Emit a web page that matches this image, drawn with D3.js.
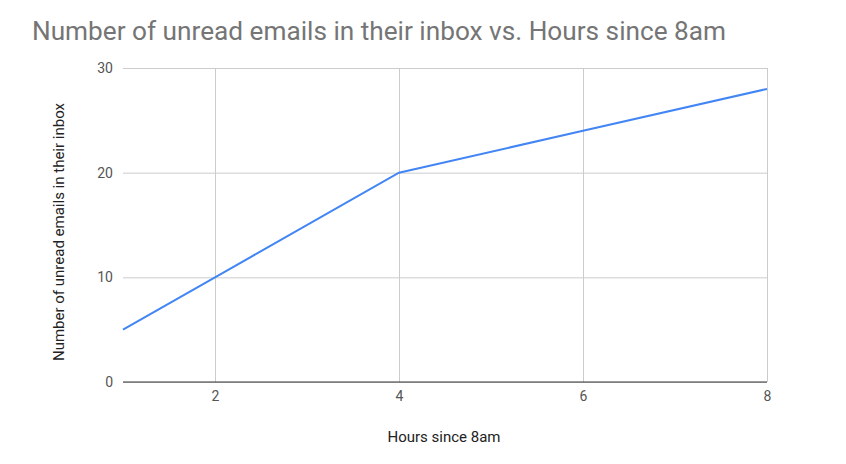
<!DOCTYPE html>
<html><head><meta charset="utf-8">
<script src="https://cdn.jsdelivr.net/npm/d3@7"></script>
<style>body{margin:0;background:#fff;} svg{display:block;font-family:Roboto,"Noto Sans",sans-serif;}</style>
</head><body>
<svg id="c" width="846" height="464"></svg>
<script>
const hours = [1, 2, 4, 6, 8];
const unread = [5, 10, 20, 24, 28];
const xTicks = [2, 4, 6, 8];
const yTicks = [0, 10, 20, 30];
const title = "Number of unread emails in their inbox vs. Hours since 8am";
const xTitle = "Hours since 8am";
const yTitle = "Number of unread emails in their inbox";

const svg = d3.select("#c");
const m = {left:123, right:767, top:68, bottom:382};
const x = d3.scaleLinear().domain([1, 8]).range([m.left, m.right]);
const y = d3.scaleLinear().domain([0, 30]).range([m.bottom, m.top]);

svg.append("text").attr("x", 32).attr("y", 40).attr("fill", "#757575")
  .attr("font-size", 26).attr("textLength", 694).attr("lengthAdjust", "spacingAndGlyphs").text(title);

// horizontal gridlines
const gy = svg.append("g").attr("transform", `translate(${m.left},0)`)
  .call(d3.axisLeft(y).tickValues(yTicks).tickSize(-(m.right - m.left)).tickPadding(10).tickFormat(d3.format("d")));
gy.select(".domain").remove();
gy.selectAll(".tick line").attr("stroke", "#cccccc");
gy.selectAll(".tick text").attr("fill", "#555").attr("font-size", 14).attr("font-family", "Roboto");

// vertical gridlines
const gx = svg.append("g").attr("transform", `translate(0,${m.bottom})`)
  .call(d3.axisBottom(x).tickValues(xTicks).tickSize(-(m.bottom - m.top)).tickPadding(9).tickFormat(d3.format("d")));
gx.select(".domain").remove();
gx.selectAll(".tick line").attr("stroke", "#cccccc");
gx.selectAll(".tick text").attr("fill", "#555").attr("font-size", 14).attr("font-family", "Roboto");

// baseline
svg.append("line").attr("x1", m.left).attr("x2", m.right).attr("y1", y(0)).attr("y2", y(0))
  .attr("stroke", "#333").attr("stroke-width", 1);

// line
const data = hours.map((h, i) => ({h, v: unread[i]}));
svg.append("path").datum(data)
  .attr("fill", "none").attr("stroke", "#4285f4").attr("stroke-width", 2)
  .attr("d", d3.line().x(d => x(d.h)).y(d => y(d.v)));

svg.append("text").attr("x", 444).attr("y", 442).attr("text-anchor", "middle")
  .attr("fill", "#222").attr("font-size", 15).text(xTitle);

svg.append("text").attr("transform", `translate(64,232) rotate(-90)`)
  .attr("text-anchor", "middle").attr("fill", "#222").attr("font-size", 15).text(yTitle);
</script>
</body></html>
